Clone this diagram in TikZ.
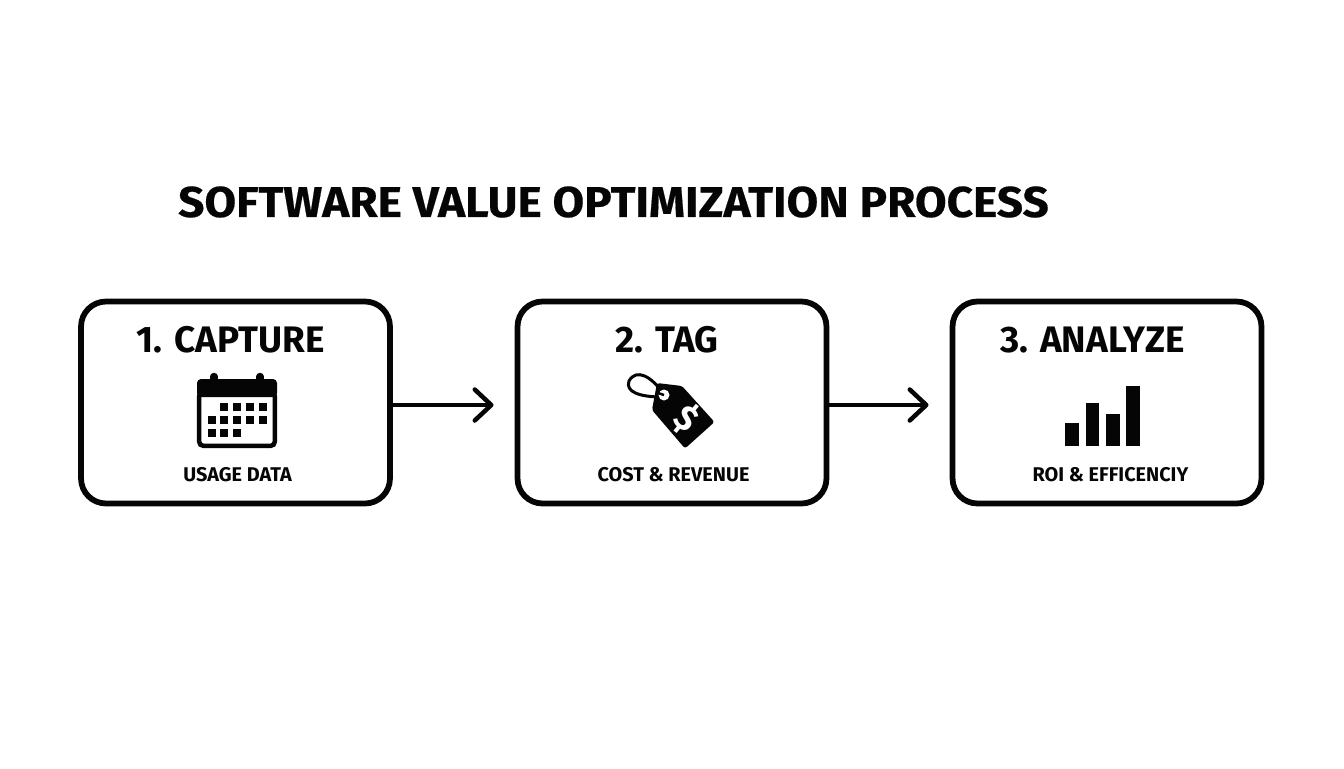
\documentclass[tikz,border=0pt]{standalone}
\usepackage{fontspec}
\setmainfont{Fira Sans}
\newfontfamily\titlefont[FakeStretch=1.067, FakeBold=0.4]{Fira Sans Bold}
\usetikzlibrary{arrows.meta, positioning}
\definecolor{inkblack}{RGB}{5, 5, 5}
\tikzset{
  stagebox/.style={draw=inkblack, fill=white, line width=0.115cm, rounded corners=0.5cm, minimum width=6.18cm, minimum height=4.04cm, inner sep=0pt},
  stagehead/.style={text=inkblack, font=\fontsize{21pt}{24pt}\selectfont\bfseries, inner sep=0pt},
  stagelabel/.style={text=inkblack, font=\fontsize{11.3pt}{14pt}\selectfont\bfseries, inner sep=0pt},
  flowarrow/.style={draw=inkblack, line width=0.09cm, line cap=round, -{Straight Barb[length=0.33cm, width=0.62cm, round]}},
  iconfill/.style={fill=inkblack, draw=none}
}

\begin{document}
\begin{tikzpicture}[x=0.02cm, y=-0.02cm]
  \useasboundingbox (0, 0) rectangle (1344, 768);
  \node[text=inkblack, font=\fontsize{24.5pt}{28pt}\titlefont, inner sep=0pt] (title) at (613.5, 202) {SOFTWARE VALUE OPTIMIZATION PROCESS};

  \node[stagebox] (capturebox) at (235.5, 402.5) {};
  \node[stagebox] (tagbox) at (672, 402.5) {};
  \node[stagebox] (analyzebox) at (1107, 402.5) {};

  \node[stagehead] (capturehead) at (230.5, 340) {1. CAPTURE};
  \node[stagehead] (taghead) at (667, 340) {2. TAG};
  \node[stagehead] (analyzehead) at (1092.5, 340) {3. ANALYZE};

  \node[stagelabel] (capturelabel) at (237.5, 475) {USAGE DATA};
  \node[stagelabel] (taglabel) at (673.5, 475) {COST \& REVENUE};
  \node[stagelabel] (analyzelabel) at (1110.5, 475) {ROI \& EFFICENCIY};

  \coordinate (tagentry) at (493.5, 405);
  \coordinate (analyzeentry) at (928.5, 405);
  \draw[flowarrow] (capturebox.east |- tagentry) -- (tagentry);
  \draw[flowarrow] (tagbox.east |- analyzeentry) -- (analyzeentry);

  % calendar
  \draw[iconfill, rounded corners=0.08cm] (197, 397) -- (197, 379) -- (277, 379) -- (277, 397) -- cycle;
  \draw[draw=inkblack, line width=0.09cm, rounded corners=0.08cm] (199.2, 392) rectangle (274.8, 445.8);
  \draw[inkblack, line width=0.15cm, line cap=round] (214, 376.5) -- (214, 382);
  \draw[inkblack, line width=0.15cm, line cap=round] (260, 376.5) -- (260, 382);
  \foreach \x/\y in {224/407, 237/407, 250/407, 263/407, 212/420, 224/420, 237/420, 250/420, 263/420, 212/433, 224/433, 237/433}
    \fill[inkblack] (\x-4.3, \y-4.3) rectangle (\x+4.3, \y+4.3);

  % price tag
  \draw[inkblack, line width=0.06cm] (664, 395) .. controls (652, 376) and (636, 368) .. (629, 381) .. controls (625, 392) and (640, 397) .. (662, 397);
  \draw[iconfill, rounded corners=0.05cm] (657, 383) -- (682, 386) -- (714.5, 422) -- (685, 448.5) -- (652, 410) -- cycle;
  \fill[white] (664, 395) circle (5.5);
  \draw[inkblack, line width=0.05cm] (664, 395) -- (658, 393);
  \node[text=white, font=\fontsize{20pt}{22pt}\selectfont\bfseries, rotate=-40, inner sep=0pt] (tagdollar) at (686, 419) {\$};

  % bars
  \fill[inkblack] (1065.3, 423.3) rectangle (1079.3, 446);
  \fill[inkblack] (1085.7, 402.7) rectangle (1099.3, 446);
  \fill[inkblack] (1105.7, 414.3) rectangle (1119.7, 446);
  \fill[inkblack] (1126, 385.7) rectangle (1140, 446);
\end{tikzpicture}
\end{document}
